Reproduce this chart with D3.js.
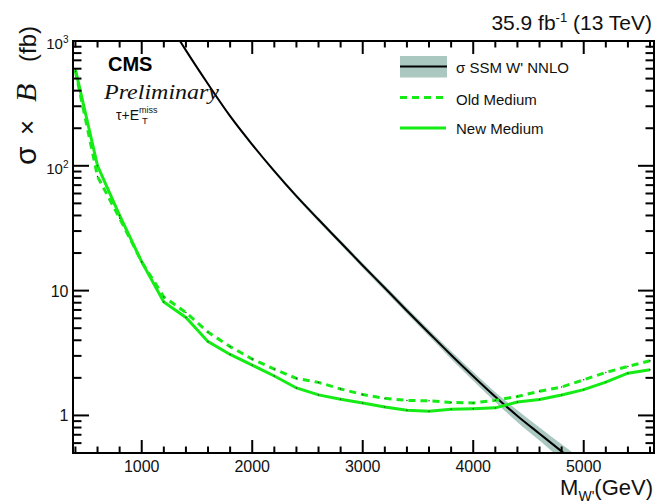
<!DOCTYPE html>
<html><head><meta charset="utf-8">
<script src="https://cdn.jsdelivr.net/npm/d3@7"></script>
<style>body{margin:0;background:#fff}svg{display:block}</style>
</head><body>
<script>
// ---- data ----
const massPoints = [400,600,800,1000,1200,1400,1600,1800,2000,2200,2400,2600,2800,3000,3200,3400,3600,3800,4000,4200,4400,4600,4800,5000,5200,5400,5600];
const newMedium = [590,100,40,17,8.1,6.1,3.9,3.08,2.53,2.07,1.66,1.46,1.35,1.26,1.17,1.10,1.08,1.12,1.13,1.15,1.28,1.34,1.46,1.61,1.85,2.18,2.32];
const oldMedium = [570,82,38,17,8.9,6.67,4.65,3.56,2.83,2.35,1.98,1.84,1.63,1.47,1.37,1.32,1.31,1.27,1.26,1.32,1.42,1.56,1.69,1.93,2.21,2.47,2.74];
const theoryMass = [1000,1200,1400,1600,1800,2000,2200,2400,2600,2800,3000,3200,3400,3600,3800,4000,4200,4400,4600,4800,5000];
const theoryXsec = [3236,1622,841,452,250,148,90.6,57.1,37.1,24.3,15.9,10.5,6.90,4.58,3.05,2.06,1.41,0.991,0.714,0.515,0.373];
const theoryRelUnc = [0.02,0.02,0.02,0.02,0.025,0.03,0.03,0.035,0.04,0.04,0.045,0.05,0.055,0.06,0.07,0.08,0.09,0.11,0.12,0.14,0.15];
const xTicks = [1000,2000,3000,4000,5000];
const yTicks = [1,10,100,1000];
const legendLabels = ["σ SSM W' NNLO","Old Medium","New Medium"];

const W=657,H=503;
const m={l:73,r:654,t:41,b:453};
const svg=d3.select("body").append("svg").attr("width",W).attr("height",H);
const x=d3.scaleLinear().domain([378,5636]).range([m.l,m.r]);
const y=d3.scaleLog().domain([0.5,1000]).range([m.b,m.t]);

svg.append("clipPath").attr("id","clip").append("rect")
  .attr("x",m.l).attr("y",m.t).attr("width",m.r-m.l).attr("height",m.b-m.t);
const g=svg.append("g").attr("clip-path","url(#clip)");

const GREEN="#15ec15", BAND="#aac8c0";
const th=theoryMass.map((M,i)=>({M,v:theoryXsec[i],u:theoryRelUnc[i]}));
g.append("path").datum(th)
  .attr("d",d3.area().curve(d3.curveMonotoneX).x(d=>x(d.M)).y0(d=>y(d.v*(1-d.u))).y1(d=>y(d.v*(1+d.u))))
  .attr("fill",BAND).attr("stroke","none");
g.append("path").datum(th)
  .attr("d",d3.line().curve(d3.curveMonotoneX).x(d=>x(d.M)).y(d=>y(d.v)))
  .attr("fill","none").attr("stroke","#000").attr("stroke-width",2);

const line=d3.line().x((d,i)=>x(massPoints[i])).y(d=>y(d));
g.append("path").datum(oldMedium).attr("d",line).attr("fill","none")
  .attr("stroke",GREEN).attr("stroke-width",3).attr("stroke-dasharray","7,5");
g.append("path").datum(newMedium).attr("d",line).attr("fill","none")
  .attr("stroke",GREEN).attr("stroke-width",3);
[oldMedium,newMedium].forEach(s=>{
  g.selectAll(null).data(s).enter().append("circle")
   .attr("cx",(d,i)=>x(massPoints[i])).attr("cy",d=>y(d)).attr("r",0.7).attr("fill","#333");
});

const ax=svg.append("g").attr("stroke","#000").attr("stroke-width",2);
ax.append("rect").attr("x",m.l).attr("y",m.t).attr("width",m.r-m.l).attr("height",m.b-m.t).attr("fill","none");
const xMinor=d3.range(400,5637,200);
xMinor.forEach(v=>{
  const major=v%1000===0, L=major?13:6.5;
  ax.append("line").attr("x1",x(v)).attr("x2",x(v)).attr("y1",m.b).attr("y2",m.b-L);
  ax.append("line").attr("x1",x(v)).attr("x2",x(v)).attr("y1",m.t).attr("y2",m.t+L);
});
const yMinor=[];
[0.1,1,10,100].forEach(d=>{for(let k=1;k<10;k++){const v=d*k;if(v>=0.5&&v<=1000)yMinor.push(v);}});
yMinor.push(1000);
yMinor.forEach(v=>{
  const major=yTicks.includes(v), L=major?16:8.5;
  ax.append("line").attr("x1",m.l).attr("x2",m.l+L).attr("y1",y(v)).attr("y2",y(v));
  ax.append("line").attr("x1",m.r).attr("x2",m.r-L).attr("y1",y(v)).attr("y2",y(v));
});

const SANS="'Liberation Sans', Arial, Helvetica, sans-serif";
const SERIF="'Liberation Serif', 'Times New Roman', serif";
svg.selectAll(".xl").data(xTicks).enter().append("text")
  .attr("x",d=>x(d)).attr("y",471.5).attr("text-anchor","middle")
  .attr("font-family",SANS).attr("font-size",16).attr("fill","#111").text(d=>d);
yTicks.forEach(v=>{
  const t=svg.append("text").attr("font-family",SANS).attr("fill","#111").attr("text-anchor","end");
  if(v>=100){
    const e=Math.round(Math.log10(v));
    t.attr("x",68.5).attr("y",y(v)+8.3).attr("font-size",15);
    t.append("tspan").text("10");
    t.append("tspan").attr("font-size",10).attr("dy",-6).text(e);
  } else {
    t.attr("x",68.5).attr("y",y(v)+6).attr("font-size",16).text(v);
  }
});

const yParts=[
  {t:"σ",start:165,size:30,fam:SANS,it:false},
  {t:"×",start:135,size:26,fam:SANS,it:false},
  {t:"B",start:102,size:30,fam:SERIF,it:true},
  {t:"(fb)",start:62,size:24,fam:SANS,it:false}
];
yParts.forEach(p=>{
  svg.append("text").attr("transform",`translate(36,${p.start}) rotate(-90)`)
    .attr("font-family",p.fam).attr("font-style",p.it?"italic":"normal")
    .attr("font-size",p.size).attr("fill","#111").text(p.t);
});

const xl=svg.append("text").attr("x",653).attr("y",495).attr("text-anchor","end")
  .attr("font-family",SANS).attr("font-size",22).attr("fill","#111");
xl.append("tspan").text("M");
xl.append("tspan").attr("font-size",14).attr("dy",6).text("W'");
xl.append("tspan").attr("dy",-6).text("(GeV)");

const lumi=svg.append("text").attr("x",652).attr("y",30).attr("text-anchor","end")
  .attr("font-family",SANS).attr("font-size",21).attr("fill","#111");
lumi.append("tspan").text("35.9 fb");
lumi.append("tspan").attr("font-size",13).attr("dy",-8).text("-1");
lumi.append("tspan").attr("dy",8).text(" (13 TeV)");

svg.append("text").attr("x",108).attr("y",70.7).attr("font-family",SANS).attr("font-weight","bold")
  .attr("font-size",20).attr("fill","#000").text("CMS");
svg.append("text").attr("x",104).attr("y",99).attr("font-family",SERIF).attr("font-style","italic")
  .attr("font-size",22).attr("textLength",115).attr("lengthAdjust","spacingAndGlyphs").attr("fill","#111").text("Preliminary");
const tau=svg.append("text").attr("x",116).attr("y",119.5).attr("font-family",SANS).attr("font-size",14).attr("fill","#111");
tau.append("tspan").text("τ+E");
tau.append("tspan").attr("font-size",9).attr("dy",-7).text("miss");
tau.append("tspan").attr("font-size",9.5).attr("x",142).attr("dy",11).text("T");

const lg=svg.append("g");
lg.append("rect").attr("x",400).attr("y",56).attr("width",47).attr("height",21.5).attr("fill",BAND);
lg.append("line").attr("x1",400).attr("x2",447).attr("y1",66.5).attr("y2",66.5).attr("stroke","#000").attr("stroke-width",2);
lg.append("line").attr("x1",400).attr("x2",443).attr("y1",97.5).attr("y2",97.5).attr("stroke",GREEN).attr("stroke-width",3).attr("stroke-dasharray","7,5");
lg.append("line").attr("x1",400).attr("x2",446).attr("y1",128).attr("y2",128).attr("stroke",GREEN).attr("stroke-width",3);
[72.5,104.5,133.5].forEach((yy,i)=>{
  lg.append("text").attr("x",456).attr("y",yy).attr("font-family",SANS).attr("font-size",15).attr("fill","#111").text(legendLabels[i]);
});
</script>
</body></html>
